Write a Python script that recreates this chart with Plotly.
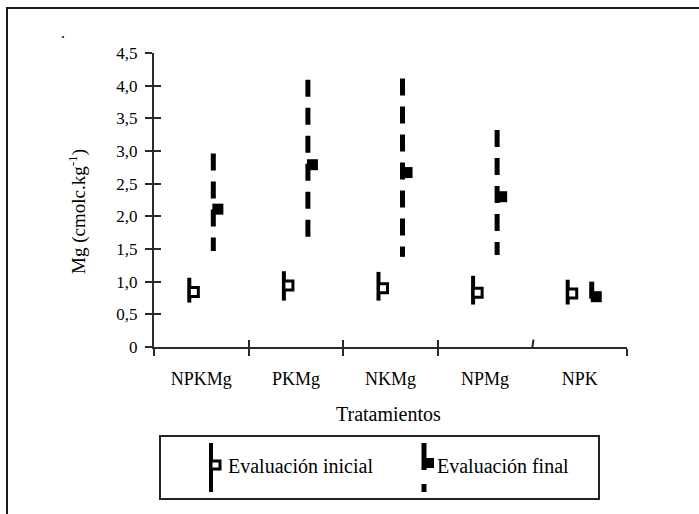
import plotly.graph_objects as go

# Treatments and Mg values (cmolc/kg): mean, lower and upper limits
tratamientos = ["NPKMg", "PKMg", "NKMg", "NPMg", "NPK"]

inicial_media = [0.84, 0.94, 0.90, 0.83, 0.82]
inicial_min = [0.68, 0.71, 0.71, 0.65, 0.65]
inicial_max = [1.06, 1.16, 1.15, 1.09, 1.03]

final_media = [2.11, 2.79, 2.67, 2.30, 0.77]
final_min = [1.47, 1.54, 1.38, 1.41, 0.68]
final_max = [2.96, 4.09, 4.11, 3.32, 1.00]

y_ticks = [0, 0.5, 1.0, 1.5, 2.0, 2.5, 3.0, 3.5, 4.0, 4.5]
y_ticktext = ["0", "0,5", "1,0", "1,5", "2,0", "2,5", "3,0", "3,5", "4,0", "4,5"]

FONT = "Liberation Serif"
INK = "black"
AXIS = "#2a2a2a"

W, H = 699, 514
L, R, T, B = 154, 627, 53, 347  # plot area in pixels


def px(xp):
    return (xp - L) / (R - L)


def py(yp):
    return (B - yp) / (B - T)


centros = [i + 0.5 for i in range(len(tratamientos))]
off_ini, off_fin, off_mk = -0.127, 0.127, 0.048


def segmentos(xs, lo, hi):
    xx, yy = [], []
    for x, a, b in zip(xs, lo, hi):
        xx += [x, x, None]
        yy += [b, a, None]
    return xx, yy


x_ini = [c + off_ini for c in centros]
x_fin = [c + off_fin for c in centros]

fig = go.Figure()

xi, yi = segmentos(x_ini, inicial_min, inicial_max)
fig.add_trace(go.Scatter(x=xi, y=yi, mode="lines",
                         line=dict(color=INK, width=4),
                         showlegend=False, hoverinfo="skip"))
xf, yf = segmentos(x_fin, final_min, final_max)
fig.add_trace(go.Scatter(x=xf, y=yf, mode="lines",
                         line=dict(color=INK, width=5, dash="17px,11px"),
                         showlegend=False, hoverinfo="skip"))
fig.add_trace(go.Scatter(x=[x + off_mk for x in x_ini], y=inicial_media,
                         mode="markers", name="Evaluación inicial",
                         marker=dict(symbol="square", size=9, color="white",
                                     line=dict(color=INK, width=3)),
                         showlegend=False))
fig.add_trace(go.Scatter(x=[x + off_mk for x in x_fin], y=final_media,
                         mode="markers", name="Evaluación final",
                         marker=dict(symbol="square", size=11, color=INK,
                                     line=dict(width=0)),
                         showlegend=False))

tick_font = dict(family=FONT, size=18, color=INK)
limites = [0, 1, 2, 3, 5]

fig.update_layout(
    width=W, height=H,
    margin=dict(l=L, r=W - R, t=T, b=H - B),
    paper_bgcolor="white", plot_bgcolor="white",
    showlegend=False,
    xaxis=dict(range=[0, 5], tickvals=centros, ticktext=tratamientos,
               ticks="", showgrid=False, zeroline=False,
               showline=True, linecolor=AXIS, linewidth=2,
               tickfont=tick_font, ticklabelstandoff=14,
               minor=dict(tickvals=limites, ticks="outside", ticklen=7,
                          tickwidth=2, tickcolor=AXIS, showgrid=False)),
    xaxis2=dict(range=[0, 5], overlaying="x", anchor="y", side="bottom",
                tickvals=limites, ticks="inside", ticklen=7, tickwidth=2,
                tickcolor=AXIS, showticklabels=False, showgrid=False,
                zeroline=False, showline=False),
    yaxis=dict(range=[0, 4.5], tickvals=y_ticks, ticktext=y_ticktext,
               ticks="outside", ticklen=7, tickwidth=2, tickcolor=AXIS,
               showgrid=False, zeroline=False, showline=True,
               linecolor=AXIS, linewidth=2, tickfont=dict(family=FONT, size=17, color=INK),
               ticklabelstandoff=4),
    yaxis2=dict(range=[0, 4.5], overlaying="y", anchor="x", side="left",
                tickvals=y_ticks, ticks="inside", ticklen=7, tickwidth=2,
                tickcolor=AXIS, showticklabels=False, showgrid=False,
                zeroline=False, showline=False),
)

# empty trace so the secondary axes are drawn
fig.add_trace(go.Scatter(x=[None], y=[None], xaxis="x2", yaxis="y2",
                         showlegend=False, hoverinfo="skip"))

shapes = []
annotations = []

# slanted boundary tick between NPMg and NPK
shapes.append(dict(type="line", xref="x", yref="y",
                   x0=4 - 0.012, y0=-0.115, x1=4 + 0.012, y1=0.115,
                   line=dict(color=AXIS, width=2)))

# outer frame
shapes.append(dict(type="rect", xref="paper", yref="paper",
                   x0=px(7), x1=px(720), y0=py(8), y1=py(540),
                   line=dict(color="#1a1a1a", width=2), fillcolor="rgba(0,0,0,0)"))

# legend box and entries
shapes.append(dict(type="rect", xref="paper", yref="paper",
                   x0=px(160), x1=px(599), y0=py(436), y1=py(499),
                   line=dict(color="#222222", width=2), fillcolor="rgba(0,0,0,0)"))
shapes.append(dict(type="line", xref="paper", yref="paper",
                   x0=px(211), x1=px(211), y0=py(443), y1=py(492),
                   line=dict(color=INK, width=4)))
shapes.append(dict(type="rect", xref="paper", yref="paper",
                   x0=px(211), x1=px(220), y0=py(461), y1=py(469),
                   line=dict(color=INK, width=3), fillcolor="white"))
shapes.append(dict(type="line", xref="paper", yref="paper",
                   x0=px(424), x1=px(424), y0=py(443), y1=py(492),
                   line=dict(color=INK, width=5, dash="27px,14px")))
shapes.append(dict(type="rect", xref="paper", yref="paper",
                   x0=px(424), x1=px(434), y0=py(458), y1=py(468),
                   line=dict(color=INK, width=0), fillcolor=INK))

legend_font = dict(family=FONT, size=20, color=INK)
annotations.append(dict(text="Evaluación inicial", xref="paper", yref="paper",
                        x=px(226), y=py(466), xanchor="left", yanchor="middle",
                        showarrow=False, font=legend_font))
annotations.append(dict(text="Evaluación final", xref="paper", yref="paper",
                        x=px(435), y=py(466), xanchor="left", yanchor="middle",
                        showarrow=False, font=legend_font))

# axis titles
annotations.append(dict(text="Tratamientos", xref="paper", yref="paper",
                        x=px(388), y=py(414), xanchor="center", yanchor="middle",
                        showarrow=False, font=dict(family=FONT, size=20, color=INK)))
annotations.append(dict(text="Mg (cmolc.kg<sup>-1</sup>)", xref="paper", yref="paper",
                        x=px(77), y=py(212), xanchor="center", yanchor="middle",
                        textangle=-90, showarrow=False,
                        font=dict(family=FONT, size=19, color=INK)))
annotations.append(dict(text=".", xref="paper", yref="paper",
                        x=px(63), y=py(33), xanchor="center", yanchor="middle",
                        showarrow=False, font=dict(family=FONT, size=16, color=INK)))

fig.update_layout(shapes=shapes, annotations=annotations)

fig.write_html("out.html")
